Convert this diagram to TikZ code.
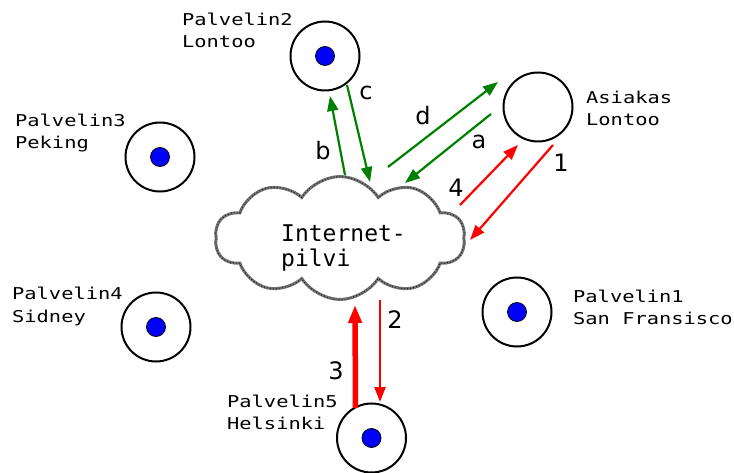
\documentclass[tikz,border=0pt]{standalone}
\usepackage{fontspec}
\usetikzlibrary{shapes.symbols,arrows.meta,calc}
\newfontfamily\lblfont[FakeStretch=1.25]{DejaVu Sans Mono}
\newfontfamily\cloudtextfont{DejaVu Sans Mono}
\newfontfamily\numfont{DejaVu Sans}
\definecolor{linkgreen}{RGB}{0,128,0}
\definecolor{linkred}{RGB}{255,0,0}

\begin{document}
\begin{tikzpicture}[x=1pt,y=-1pt,
  server/.style={circle,draw=black,line width=2pt,minimum size=69pt,inner sep=0pt},
  hub/.style={circle,fill=blue,draw=black,line width=0.8pt,minimum size=19pt,inner sep=0pt},
  % anchored at the baseline of the last line
  lbl/.style={font=\lblfont\fontsize{16.3}{22}\selectfont,align=left,anchor=base west,inner sep=0pt},
  num/.style={font=\numfont\fontsize{24}{26}\selectfont,inner sep=0pt},
  cloudshape/.style={cloud,cloud puffs=10,cloud puff arc=115,aspect=2,
    minimum width=250pt,minimum height=123pt,inner sep=0pt},
  garrow/.style={draw=linkgreen,line width=2.2pt,-{Triangle[length=15pt,width=11pt]}},
  rarrow/.style={draw=linkred,line width=2.2pt,-{Triangle[length=15pt,width=11pt]}},
  rthick/.style={draw=linkred,line width=5.5pt,-{Triangle[length=18pt,width=13pt]}},
]
\useasboundingbox (0,0) rectangle (734,473);

% Internet cloud with a grainy outline
\node[cloudshape,draw=black!55,line width=3pt] (net) at (340,238) {};
\node[cloudshape,draw=black!90,line width=1.1pt,dash pattern=on 0.8pt off 2.2pt] (nettex) at (net) {};
\node[font=\cloudtextfont\fontsize{23}{25}\selectfont,align=left,anchor=base west,inner sep=0pt]
  (nettext) at (281,267) {Internet-\\pilvi};

% servers and the client
\node[server] (p1) at (517,312) {};
\node[server] (p2) at (325,56) {};
\node[server] (p3) at (160,157) {};
\node[server] (p4) at (156,327) {};
\node[server] (p5) at (371.5,438) {};
\node[server] (as) at (538,107) {};
\foreach \s in {p1,p2,p3,p4,p5} \node[hub] (\s-hub) at (\s) {};

% labels
\node[lbl] (p1lbl) at (573,324) {Palvelin1\\San Fransisco};
\node[lbl] (p2lbl) at (182,48) {Palvelin2\\Lontoo};
\node[lbl] (p3lbl) at (15,149) {Palvelin3\\Peking};
\node[lbl] (p4lbl) at (12,322) {Palvelin4\\Sidney};
\node[lbl] (p5lbl) at (227,429) {Palvelin5\\Helsinki};
\node[lbl] (aslbl) at (586,126) {Asiakas\\Lontoo};

% green request/response steps
\draw[garrow] ($(net)+(5,-63)$) -- ($(p2)+(5,40)$);
\draw[garrow] ($(p2)+(22,29)$) -- ($(net)+(30,-56)$);
\draw[garrow] ($(net)+(48,-71)$) -- ($(as)+(-40,-25)$);
\draw[garrow] ($(as)+(-47,7)$) -- ($(net)+(65,-55)$);

% red steps
\draw[rarrow] ($(net)+(120,-33)$) -- ($(as)+(-20,38)$);
\draw[rarrow] ($(as)+(15,38)$) -- ($(net)+(130,2)$);
\draw[rthick] ($(p5)+(-16,-30)$) -- ($(net)+(15,67)$);
\draw[rarrow,line width=2.5pt] ($(net)+(40,62)$) -- ($(p5)+(8.5,-36)$);

% step labels
\node[num] (lb) at (323,151) {b};
\node[num] (lc) at (366,93) {c};
\node[num] (ld) at (423,116) {d};
\node[num] (la) at (479,142) {a};
\node[num] (l4) at (456,188) {4};
\node[num] (l1) at (561,163) {1};
\node[num] (l2) at (395,320) {2};
\node[num] (l3) at (336,371) {3};
\end{tikzpicture}
\end{document}
